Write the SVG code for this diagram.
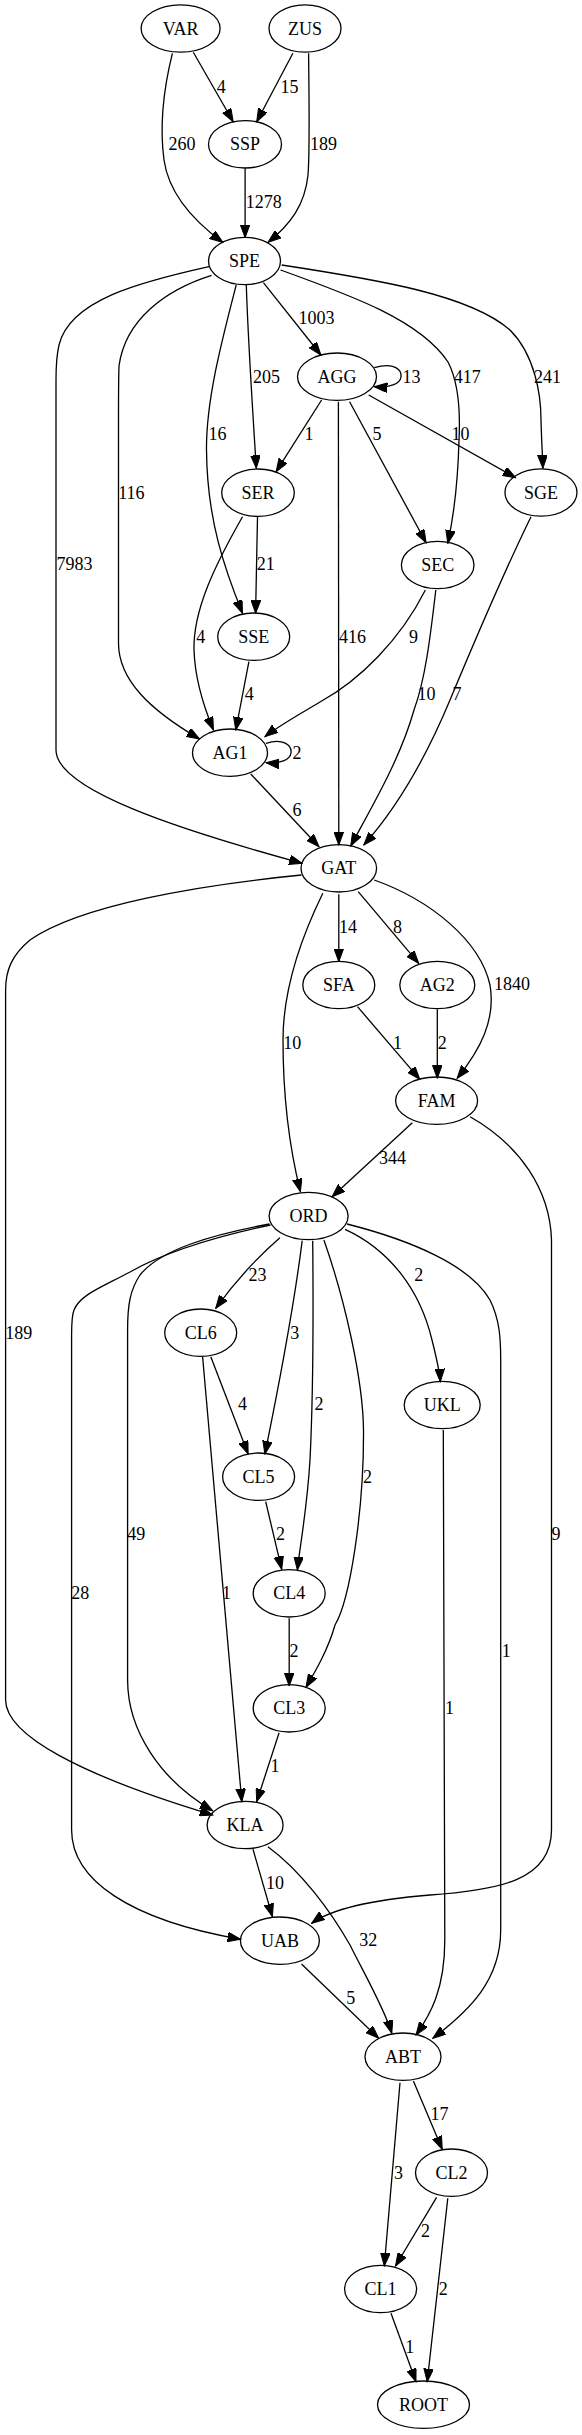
<svg xmlns="http://www.w3.org/2000/svg" width="582" height="2435" viewBox="0 0 582 2435">
<style>
.n ellipse{fill:none;stroke:#000;stroke-width:1.3}
.n text,.l text{font-family:"Liberation Serif","Times New Roman",serif;font-size:18px;fill:#000;text-anchor:middle}
.e path{fill:none;stroke:#000;stroke-width:1.3;marker-end:url(#ah)}
</style>
<defs>
<marker id="ah" markerUnits="userSpaceOnUse" markerWidth="14" markerHeight="10" refX="13" refY="4.8" orient="auto">
<path d="M0,0 L13,4.8 L0,9.6 z" fill="#000" stroke="#000" stroke-width="1"/>
</marker>
</defs>
<rect width="582" height="2435" fill="#fff"/>
<g class="e" id="edges">
<path d="M193.3,52.3 L233.2,121.7"/>
<path d="M292.9,53.3 L256.7,121.7"/>
<path d="M172.4,53.3 C162,95 160,130 164,160 C169,195 195,222 222.8,242.3"/>
<path d="M308.6,53.3 C309,100 310,150 308,175 C305,205 290,225 268,242.3"/>
<path d="M245.1,168.3 L245.1,237.7"/>
<path d="M263.4,282.7 L320.9,355"/>
<path d="M374.3,367.7 C395,362 402,370 401,377 C400,384 390,388 374.3,386.7"/>
<path d="M246.3,285 C248,340 252,400 256.3,468.3"/>
<path d="M236.2,285 C222,340 206,400 206.5,450 C207,520 225,570 242.5,613.3"/>
<path d="M211.6,275.3 C165,290 125,320 119,366 C118.5,380 118.5,400 118.5,420 L118.5,643 C118.5,680 150,710 199.6,739"/>
<path d="M209,266.7 C140,282 70,300 59,345 C56,358 56,370 56,380 L56,750 C56,790 180,830 302.2,863.3"/>
<path d="M280.6,270 C350,295 420,320 448,362 C460,385 460,420 459,440 C458,480 455,510 447.8,543.3"/>
<path d="M281.7,265 C380,280 470,295 510,330 C535,355 541,395 541,420 C541.5,440 542.5,455 542.9,468.3"/>
<path d="M321.6,400 L276.1,471.7"/>
<path d="M338.4,401.7 L338.8,845"/>
<path d="M349.6,401.7 L426.1,542.7"/>
<path d="M368.7,395 L515.7,477.7"/>
<path d="M257.5,516.7 L255.6,613.3"/>
<path d="M242.5,516.7 C215,565 193,610 194,650 C195,680 203,705 213.4,730"/>
<path d="M248.9,661.7 L235.8,730"/>
<path d="M425.4,590 C400,640 360,680 320,702 C300,714 280,725 264.9,736.7"/>
<path d="M435.8,590 C430,640 425,680 414,710 C400,760 370,810 350.7,846"/>
<path d="M531,516.7 C505,570 475,640 450,700 C425,760 395,810 363.8,845"/>
<path d="M266,743.3 C283,738 292,745 291,753 C290,760 280,764 266,762.7"/>
<path d="M250.7,774 L319,846.7"/>
<path d="M338.8,894.3 L338.8,961.7"/>
<path d="M358.2,891.7 L418.7,963.3"/>
<path d="M374.3,880 C430,900 480,940 490,985 C496,1020 480,1050 457.1,1078.3"/>
<path d="M322.8,893.3 C300,940 283,990 283,1040 C283,1100 290,1150 300.4,1191.7"/>
<path d="M301.5,875 C200,885 80,905 30,940 C12,955 5.6,970 5.6,990 L5.6,1700 C5.6,1735 80,1775 212.7,1815"/>
<path d="M357.5,1006.7 L419.8,1079.3"/>
<path d="M437.3,1009.3 L437.3,1078.3"/>
<path d="M412.3,1122.7 L332.1,1196.7"/>
<path d="M470.1,1116.7 C520,1145 550,1190 551.5,1240 L551.5,1830 C551.5,1880 500,1890 430,1895 C370,1900 330,1910 311.6,1923.3"/>
<path d="M279.9,1237.7 C260,1255 240,1275 215.7,1308.3"/>
<path d="M302.2,1240.7 C296,1290 280,1380 264.9,1454"/>
<path d="M312.7,1240.7 C313.5,1320 313,1400 310,1460 C307,1510 300,1545 297.4,1570"/>
<path d="M323.9,1240 C345,1300 363,1380 363.5,1430 C364,1510 350,1600 335,1625 C328,1650 315,1672 306,1687.3"/>
<path d="M345.1,1229.3 C390,1250 420,1290 432,1340 C437,1360 440,1375 440.3,1381.7"/>
<path d="M347,1224 C410,1240 470,1265 490,1300 C500,1320 500.7,1340 500.7,1360 L500.7,1930 C500.7,1980 470,2010 432.8,2038.3"/>
<path d="M269.4,1224 C210,1235 160,1250 140,1275 C130,1290 127.6,1305 127.6,1330 L127.6,1680 C127.6,1730 160,1780 212.7,1810.7"/>
<path d="M270.5,1225 C200,1240 160,1255 130,1272 C100,1288 80,1295 74,1310 C72,1315 71.6,1325 71.6,1335 L71.6,1830 C71.6,1880 130,1920 240.7,1939.3"/>
<path d="M210.8,1356.7 L248.1,1454"/>
<path d="M202.6,1356.7 L241.8,1801.7"/>
<path d="M265.7,1501.7 L281.7,1569.3"/>
<path d="M289.2,1618.3 L289.2,1686"/>
<path d="M279.1,1732.7 L256.7,1801.7"/>
<path d="M443.3,1430 C444,1500 444.8,1700 444.8,1940 C444.8,1990 430,2015 416,2035"/>
<path d="M253,1849.3 L272.4,1916.7"/>
<path d="M267.9,1846.7 C300,1870 330,1910 350,1945 C365,1975 385,2010 391.8,2033.3"/>
<path d="M301.5,1964 L378.7,2038.3"/>
<path d="M413.4,2081 L442.2,2149.3"/>
<path d="M400,2082.7 L384.3,2266"/>
<path d="M436.6,2197.3 L395.5,2266"/>
<path d="M447.8,2198.3 L427.2,2381.7"/>
<path d="M391,2313.3 L416,2381.7"/>
</g>
<g class="l" id="edge-labels">
<text x="221.3" y="92.7">4</text>
<text x="289.6" y="92.7">15</text>
<text x="182.1" y="150.3">260</text>
<text x="323.5" y="150.3">189</text>
<text x="263.8" y="208.3">1278</text>
<text x="316.4" y="324.3">1003</text>
<text x="266.4" y="382.7">205</text>
<text x="411.6" y="382.7">13</text>
<text x="467.2" y="382.7">417</text>
<text x="547.4" y="382.7">241</text>
<text x="217.5" y="440.3">16</text>
<text x="309" y="440.3">1</text>
<text x="376.9" y="440.3">5</text>
<text x="460.4" y="440.3">10</text>
<text x="131.3" y="498.7">116</text>
<text x="74.6" y="570.3">7983</text>
<text x="265.7" y="570.3">21</text>
<text x="200.7" y="642.7">4</text>
<text x="352.6" y="642.7">416</text>
<text x="413.4" y="642.7">9</text>
<text x="249.3" y="700.3">4</text>
<text x="426.5" y="700.3">10</text>
<text x="457.1" y="700.3">7</text>
<text x="297" y="758.7">2</text>
<text x="297" y="816">6</text>
<text x="348.1" y="932.7">14</text>
<text x="397.4" y="932.7">8</text>
<text x="511.9" y="990.3">1840</text>
<text x="292.2" y="1048.7">10</text>
<text x="397.4" y="1048.7">1</text>
<text x="442.2" y="1048.7">2</text>
<text x="392.5" y="1164.3">344</text>
<text x="257.5" y="1281">23</text>
<text x="418.7" y="1281">2</text>
<text x="18.7" y="1338.7">189</text>
<text x="294.8" y="1338.7">3</text>
<text x="242.5" y="1410">4</text>
<text x="319" y="1410">2</text>
<text x="367.5" y="1482.7">2</text>
<text x="136.2" y="1540.3">49</text>
<text x="280.6" y="1540.3">2</text>
<text x="556" y="1540.3">9</text>
<text x="80.2" y="1598.7">28</text>
<text x="226.5" y="1598.7">1</text>
<text x="294" y="1656.7">2</text>
<text x="506.3" y="1656.7">1</text>
<text x="449.6" y="1714.3">1</text>
<text x="275" y="1772">1</text>
<text x="275" y="1888.7">10</text>
<text x="368.3" y="1946">32</text>
<text x="350.7" y="2004.3">5</text>
<text x="439.6" y="2120.3">17</text>
<text x="398.5" y="2178.7">3</text>
<text x="425.4" y="2236.7">2</text>
<text x="443.3" y="2295">2</text>
<text x="409.7" y="2352.7">1</text>
</g>
<g class="n" id="VAR"><ellipse cx="180.6" cy="28.5" rx="39.5" ry="23.7"/><text x="180.6" y="34.5">VAR</text></g>
<g class="n" id="ZUS"><ellipse cx="305" cy="28.5" rx="36" ry="23.7"/><text x="305" y="34.5">ZUS</text></g>
<g class="n" id="SSP"><ellipse cx="245" cy="144.3" rx="36.5" ry="23.7"/><text x="245" y="150.3">SSP</text></g>
<g class="n" id="SPE"><ellipse cx="244.5" cy="261" rx="36" ry="23.7"/><text x="244.5" y="267">SPE</text></g>
<g class="n" id="AGG"><ellipse cx="337" cy="376.7" rx="39.5" ry="23.7"/><text x="337" y="382.7">AGG</text></g>
<g class="n" id="SER"><ellipse cx="258" cy="492.7" rx="36.3" ry="23.7"/><text x="258" y="498.7">SER</text></g>
<g class="n" id="SGE"><ellipse cx="541" cy="492.5" rx="36" ry="23.7"/><text x="541" y="498.5">SGE</text></g>
<g class="n" id="SEC"><ellipse cx="437.7" cy="565" rx="36.3" ry="23.7"/><text x="437.7" y="571">SEC</text></g>
<g class="n" id="SSE"><ellipse cx="253.7" cy="636.7" rx="36" ry="23.7"/><text x="253.7" y="642.7">SSE</text></g>
<g class="n" id="AG1"><ellipse cx="230" cy="752.7" rx="37.5" ry="23.7"/><text x="230" y="758.7">AG1</text></g>
<g class="n" id="GAT"><ellipse cx="338.8" cy="868.3" rx="37.8" ry="23.7"/><text x="338.8" y="874.3">GAT</text></g>
<g class="n" id="SFA"><ellipse cx="338.8" cy="985" rx="36" ry="23.7"/><text x="338.8" y="991">SFA</text></g>
<g class="n" id="AG2"><ellipse cx="437.3" cy="985" rx="37.5" ry="23.7"/><text x="437.3" y="991">AG2</text></g>
<g class="n" id="FAM"><ellipse cx="436.6" cy="1100.7" rx="41" ry="23.7"/><text x="436.6" y="1106.7">FAM</text></g>
<g class="n" id="ORD"><ellipse cx="308.6" cy="1216" rx="39.5" ry="23.7"/><text x="308.6" y="1222">ORD</text></g>
<g class="n" id="CL6"><ellipse cx="200.7" cy="1332.7" rx="36" ry="23.7"/><text x="200.7" y="1338.7">CL6</text></g>
<g class="n" id="UKL"><ellipse cx="442.2" cy="1405" rx="38" ry="23.7"/><text x="442.2" y="1411">UKL</text></g>
<g class="n" id="CL5"><ellipse cx="258.6" cy="1476.7" rx="36" ry="23.7"/><text x="258.6" y="1482.7">CL5</text></g>
<g class="n" id="CL4"><ellipse cx="289.2" cy="1593.3" rx="36" ry="23.7"/><text x="289.2" y="1599.3">CL4</text></g>
<g class="n" id="CL3"><ellipse cx="289.2" cy="1708.3" rx="36" ry="23.7"/><text x="289.2" y="1714.3">CL3</text></g>
<g class="n" id="KLA"><ellipse cx="245.1" cy="1825" rx="38" ry="23.7"/><text x="245.1" y="1831">KLA</text></g>
<g class="n" id="UAB"><ellipse cx="279.9" cy="1940.7" rx="39.5" ry="23.7"/><text x="279.9" y="1946.7">UAB</text></g>
<g class="n" id="ABT"><ellipse cx="403" cy="2056.7" rx="38" ry="23.7"/><text x="403" y="2062.7">ABT</text></g>
<g class="n" id="CL2"><ellipse cx="451.5" cy="2172.7" rx="36" ry="23.7"/><text x="451.5" y="2178.7">CL2</text></g>
<g class="n" id="CL1"><ellipse cx="380.6" cy="2289" rx="36" ry="23.7"/><text x="380.6" y="2295">CL1</text></g>
<g class="n" id="ROOT"><ellipse cx="423.5" cy="2404.7" rx="46" ry="23.7"/><text x="423.5" y="2410.7">ROOT</text></g>
</svg>
